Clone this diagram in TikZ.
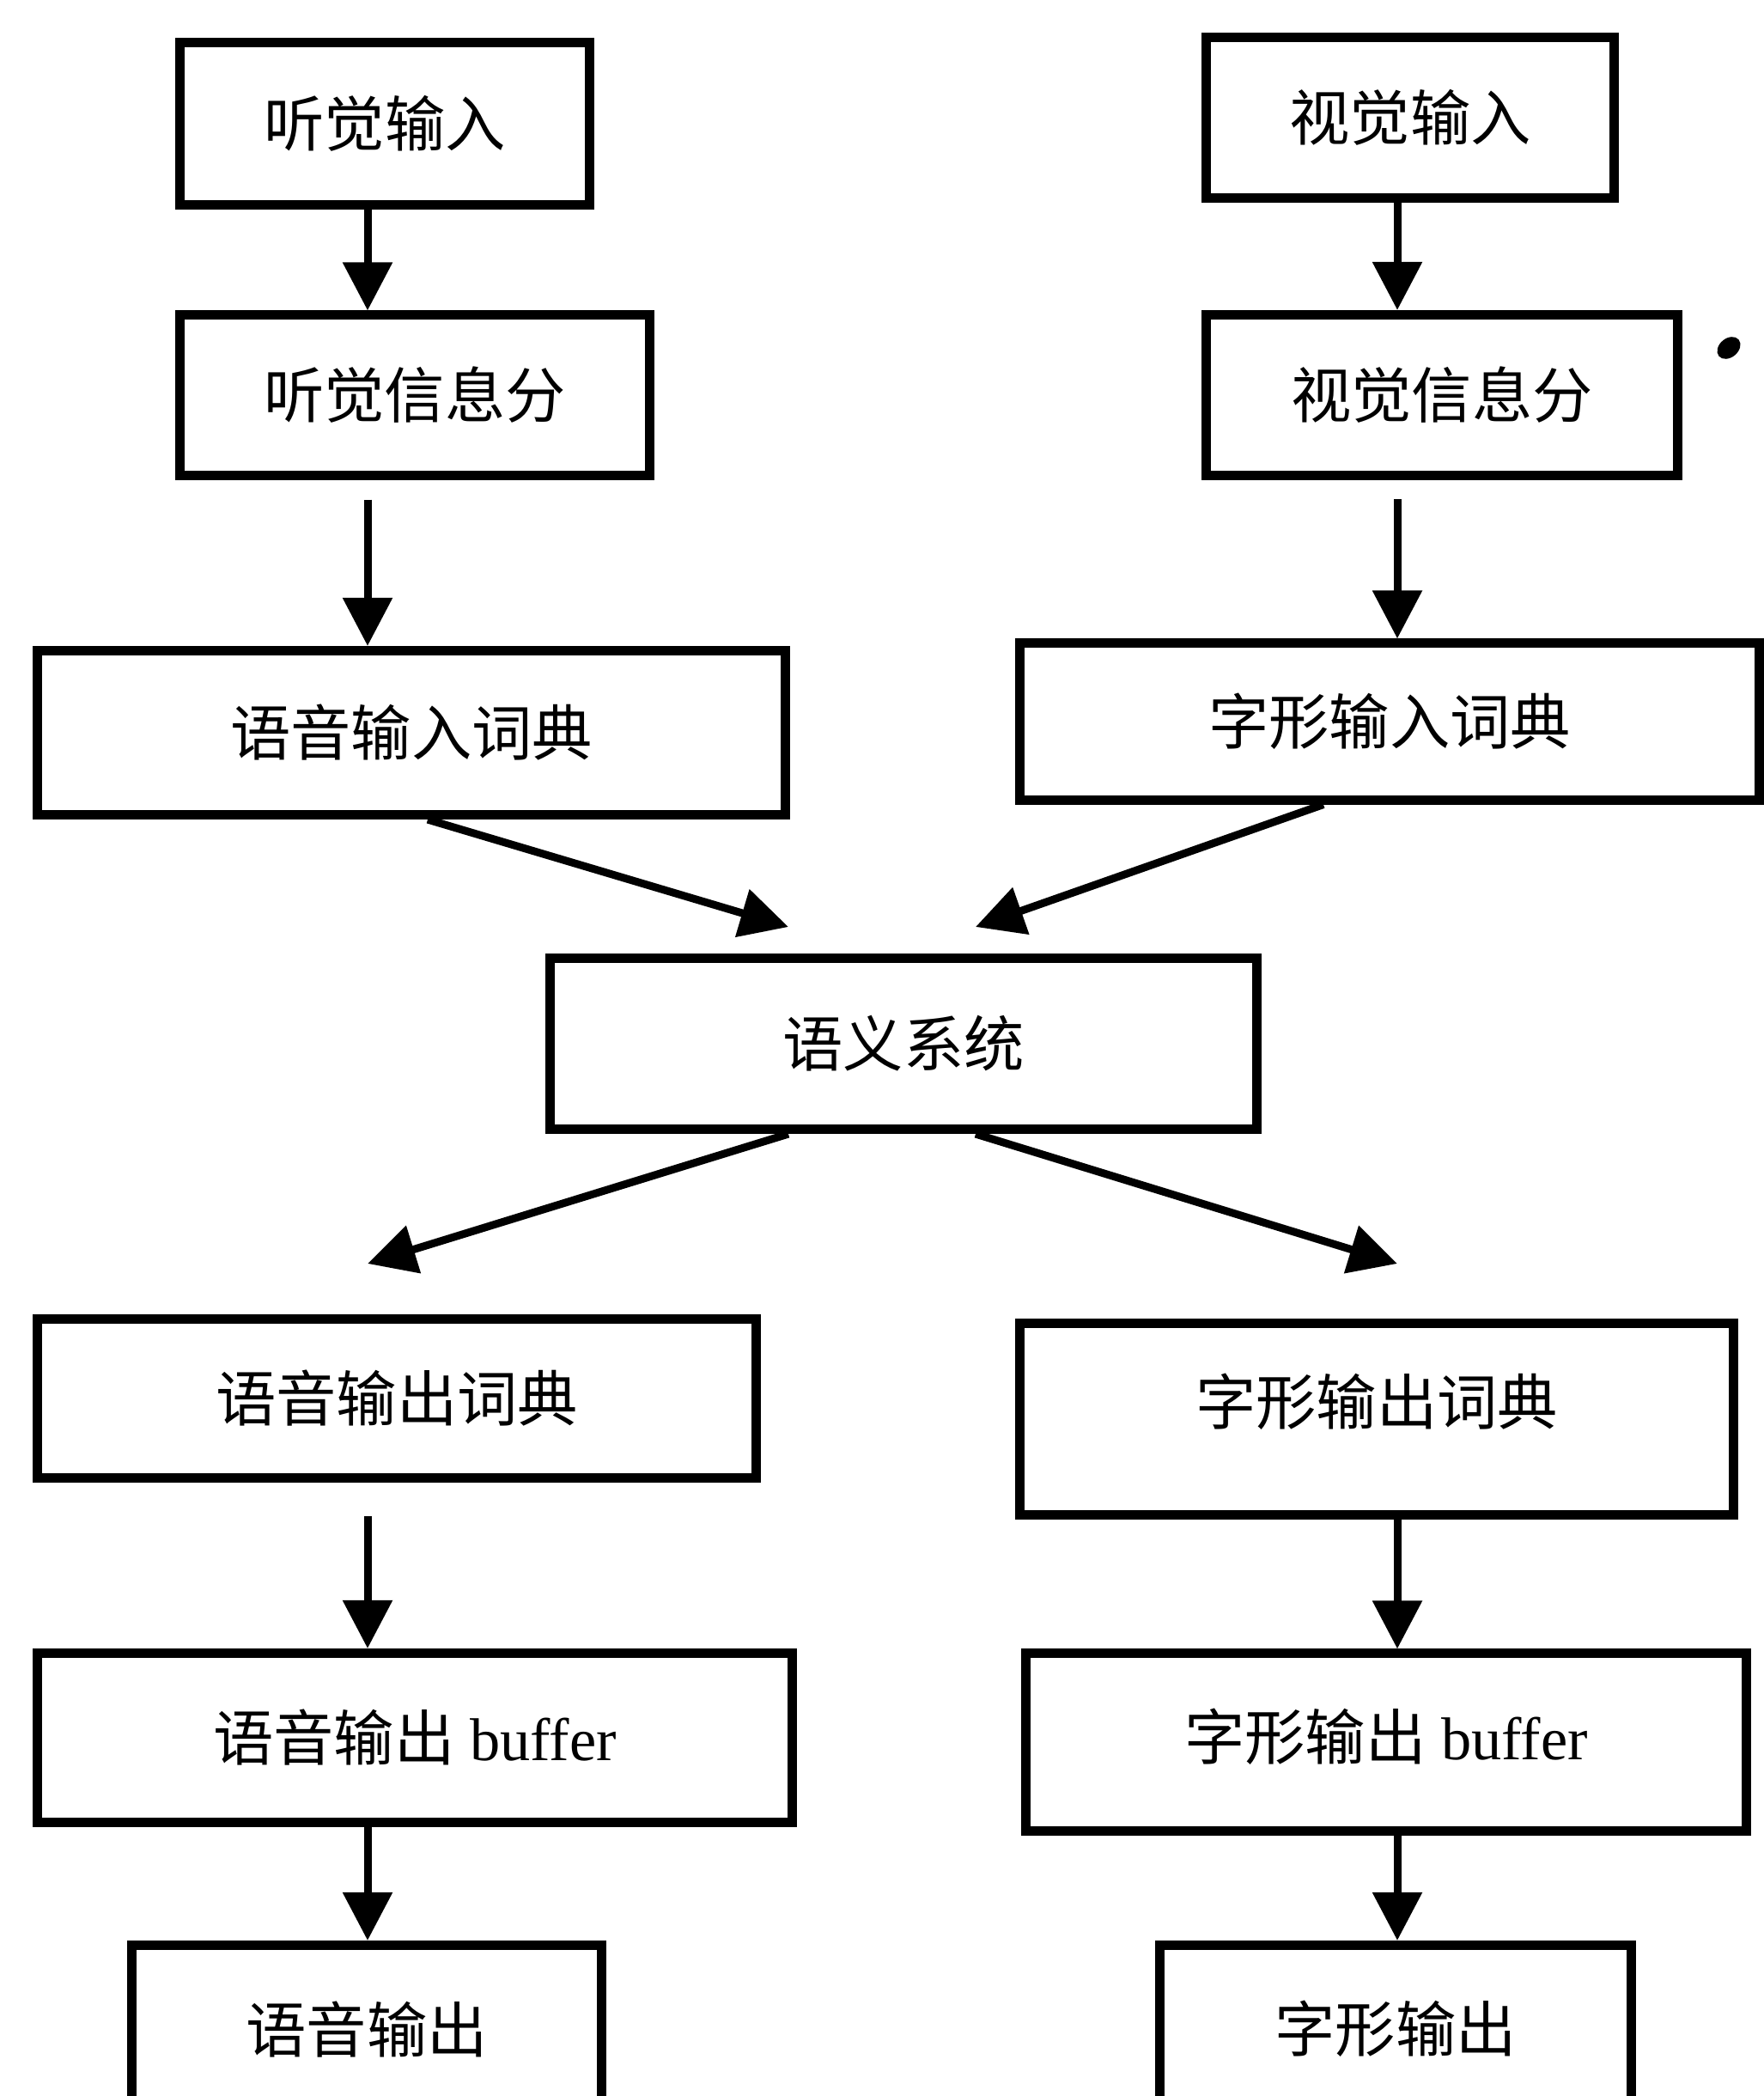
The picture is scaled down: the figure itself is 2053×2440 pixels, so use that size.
\documentclass[tikz,border=0pt]{standalone}
\usepackage{fontspec}
\setmainfont{Liberation Serif}
\newfontfamily\cjk{Noto Sans CJK SC}
\usetikzlibrary{arrows.meta}
\begin{document}
\begin{tikzpicture}[x=0.01cm,y=-0.01cm,
  box/.style={draw=black, line width=0.11cm, inner sep=0pt, font=\fontsize{20}{24}\selectfont},
  lbl/.style={inner sep=0pt, font=\fontsize{20}{24}\selectfont},
  arr/.style={line width=0.09cm, -{Triangle[width=0.56cm,length=0.56cm]}},
  blob/.style={fill=black, draw=none}
]
\useasboundingbox (0,0) rectangle (2053,2440);
\fill[white] (0,0) rectangle (2053,2440);

\coordinate (L) at (428,0);
\coordinate (R) at (1627,0);

\node[box, minimum width=4.76cm, minimum height=1.88cm] (b1) at (448,144) {\cjk 听觉输入};
\node[box, minimum width=4.75cm, minimum height=1.86cm] (b2) at (1642,137) {\cjk 视觉输入};
\node[box, minimum width=5.46cm, minimum height=1.86cm] (b3) at (483,460) {\cjk 听觉信息分};
\node[box, minimum width=5.48cm, minimum height=1.87cm] (b4) at (1679,460) {\cjk 视觉信息分};
\node[box, minimum width=8.70cm, minimum height=1.91cm] (b5) at (479,853) {\cjk 语音输入词典};
\node[box, minimum width=8.60cm, minimum height=1.82cm] (b6) at (1618,840) {\cjk 字形输入词典};
\node[box, minimum width=8.22cm, minimum height=1.99cm] (b7) at (1052,1215) {\cjk 语义系统};
\node[box, minimum width=8.37cm, minimum height=1.84cm] (b8) at (462,1628) {\cjk 语音输出词典};
\node[box, minimum width=8.31cm, minimum height=2.22cm] (b9) at (1603,1652) {};
\node[lbl] (b9t) at ([yshift=0.2cm]b9.center) {\cjk 字形输出词典};
\node[box, minimum width=8.79cm, minimum height=1.97cm] (b10) at (483,2023) {{\cjk 语音输出} buffer};
\node[box, minimum width=8.38cm, minimum height=2.06cm] (b11) at (1614,2028) {};
\node[lbl] (b11t) at ([yshift=0.06cm]b11.center) {{\cjk 字形输出} buffer};
\node[box, minimum width=5.46cm, minimum height=1.95cm] (b12) at (427,2362) {\cjk 语音输出};
\node[box, minimum width=5.48cm, minimum height=1.95cm] (b13) at (1625,2362) {\cjk 字形输出};

\coordinate (t1) at (918,1079);
\coordinate (t2) at (1136,1079);
\coordinate (t3) at (428,1471);
\coordinate (t4) at (1627,1471);

\draw[arr] (b1.south -| L) -- (b3.north -| L);
\draw[arr] ([yshift=-0.23cm]b3.south -| L) -- (b5.north -| L);
\draw[arr] (b2.south -| R) -- (b4.north -| R);
\draw[arr] ([yshift=-0.22cm]b4.south -| R) -- (b6.north -| R);
\draw[arr] ([xshift=0.19cm]b5.south) -- (t1);
\draw[arr] ([xshift=-0.77cm]b6.south) -- (t2);
\draw[arr] ([xshift=-1.34cm]b7.south) -- (t3);
\draw[arr] ([xshift=0.84cm]b7.south) -- (t4);
\draw[arr] ([yshift=-0.39cm]b8.south -| L) -- (b10.north -| L);
\draw[arr] (b9.south -| R) -- (b11.north -| R);
\draw[arr] (b10.south -| L) -- (b12.north -| L);
\draw[arr] (b11.south -| R) -- (b13.north -| R);

\fill[blob, rotate around={40:(2013,405)}] (2013,405) ellipse (0.15cm and 0.11cm);
\end{tikzpicture}
\end{document}
